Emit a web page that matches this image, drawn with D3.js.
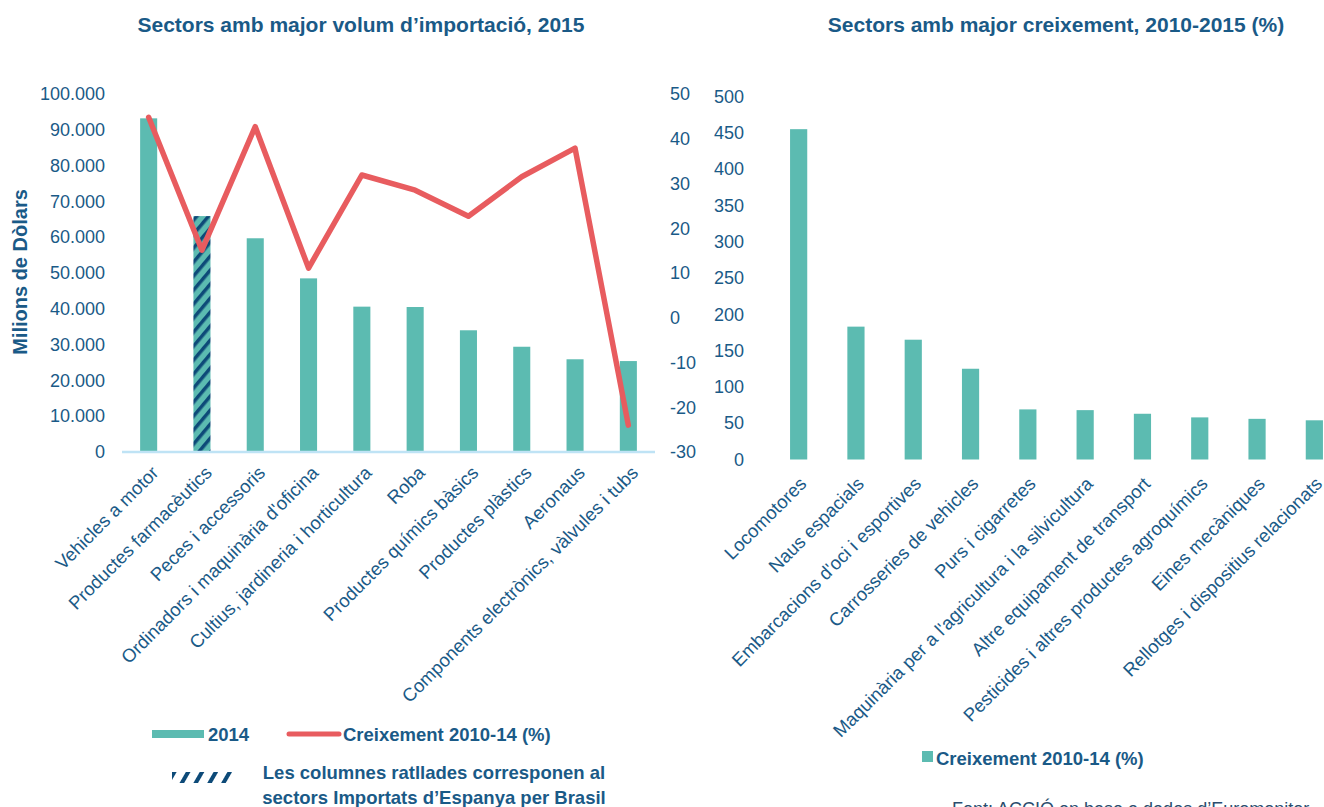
<!DOCTYPE html>
<html>
<head>
<meta charset="utf-8">
<script src="https://cdn.jsdelivr.net/npm/d3@7"></script>
<style>
  body { margin: 0; background: #fff; }
  svg { display: block; font-family: "Liberation Sans", Arial, sans-serif; }
</style>
</head>
<body>
<svg width="1324" height="807"></svg>
<script>
// left chart: import volume 2015 + growth line
const importCats = ["Vehicles a motor", "Productes farmacèutics", "Peces i accessoris",
  "Ordinadors i maquinària d'oficina", "Cultius, jardineria i horticultura", "Roba",
  "Productes químics bàsics", "Productes plàstics", "Aeronaus",
  "Components electrònics, vàlvules i tubs"];
const import2014 = [93200, 65900, 59700, 48500, 40600, 40500, 34000, 29400, 25900, 25400];
const growth1014 = [44.8, 15.1, 42.7, 11.1, 31.9, 28.5, 22.7, 31.5, 37.9, -24];
const hatched = ["Productes farmacèutics"]; // sectors imported from Spain
const leftTicks = d3.range(0, 100001, 10000);
const rightTicks = d3.range(-30, 51, 10);

// right chart: fastest growing sectors
const growthCats = ["Locomotores", "Naus espacials", "Embarcacions d'oci i esportives",
  "Carrosseries de vehicles", "Purs i cigarretes", "Maquinària per a l'agricultura i la silvicultura",
  "Altre equipament de transport", "Pesticides i altres productes agroquímics",
  "Eines mecàniques", "Rellotges i dispositius relacionats"];
const growthVals = [455, 183, 165, 125, 69, 68, 63, 58, 56, 54];
const growthTicks = d3.range(0, 501, 50);

const teal = "#5cbbb1", red = "#e85c5f", navy = "#0d4a78", txt = "#1a5a87";

const svg = d3.select("svg");
const defs = svg.append("defs");

// diagonal stripes for hatched bars
const pat = defs.append("pattern").attr("id", "hatch")
  .attr("patternUnits", "userSpaceOnUse").attr("width", 9).attr("height", 9)
  .attr("patternTransform", "rotate(40)");
pat.append("rect").attr("width", 9).attr("height", 9).attr("fill", teal);
pat.append("rect").attr("width", 3.5).attr("height", 9).attr("fill", navy);

const pat2 = defs.append("pattern").attr("id", "hatchLegend")
  .attr("patternUnits", "userSpaceOnUse").attr("width", 12).attr("height", 12)
  .attr("patternTransform", "translate(172,772) rotate(30)");
pat2.append("rect").attr("width", 4).attr("height", 12).attr("fill", navy);

const thousands = d3.formatLocale({decimal: ",", thousands: ".", grouping: [3], currency: ["", ""]}).format(",");

// ---------- left chart ----------
const xL = d3.scaleBand().domain(importCats).range([122, 655]).paddingInner(0.68).paddingOuter(0.34);
const yL = d3.scaleLinear().domain([0, 100000]).range([452, 94]);
const yR = d3.scaleLinear().domain([-30, 50]).range([452, 94]);

svg.append("text").text("Sectors amb major volum d’importació, 2015")
  .attr("x", 361).attr("y", 32).attr("text-anchor", "middle")
  .attr("font-weight", "bold").attr("font-size", 21).attr("fill", txt);

const axL = svg.append("g").attr("transform", "translate(122,0)")
  .call(d3.axisLeft(yL).tickValues(leftTicks).tickFormat(thousands).tickSize(0).tickPadding(17));
axL.select(".domain").remove();
axL.selectAll("text").attr("font-size", 18).attr("fill", txt).attr("font-family", null);

const axR = svg.append("g").attr("transform", "translate(655,0)")
  .call(d3.axisRight(yR).tickValues(rightTicks).tickFormat(d => String(d)).tickSize(0).tickPadding(15));
axR.select(".domain").remove();
axR.selectAll("text").attr("font-size", 18).attr("fill", txt).attr("font-family", null);

svg.append("text").text("Milions de Dòlars")
  .attr("transform", "translate(27,272) rotate(-90)").attr("text-anchor", "middle")
  .attr("font-weight", "bold").attr("font-size", 20).attr("fill", txt);

svg.selectAll(".barL").data(importCats).enter().append("rect")
  .attr("class", "barL")
  .attr("x", d => xL(d)).attr("width", xL.bandwidth())
  .attr("y", (d, i) => yL(import2014[i]))
  .attr("height", (d, i) => yL(0) - yL(import2014[i]))
  .attr("fill", d => hatched.includes(d) ? "url(#hatch)" : teal);

svg.append("line").attr("x1", 122).attr("x2", 655).attr("y1", 452).attr("y2", 452)
  .attr("stroke", "#bfe3f5").attr("stroke-width", 2.5);

const line = d3.line().x((d, i) => xL(importCats[i]) + xL.bandwidth() / 2).y(d => yR(d));
svg.append("path").datum(growth1014).attr("d", line)
  .attr("fill", "none").attr("stroke", red).attr("stroke-width", 5.5)
  .attr("stroke-linejoin", "round").attr("stroke-linecap", "round");

svg.selectAll(".labL").data(importCats).enter().append("text")
  .attr("class", "labL").text(d => d)
  .attr("transform", d => `translate(${xL(d) + xL.bandwidth() / 2 + 11},474) rotate(-45)`)
  .attr("text-anchor", "end").attr("font-size", 18.5).attr("fill", txt);

// legend left
svg.append("rect").attr("x", 152).attr("y", 730).attr("width", 52).attr("height", 8).attr("fill", teal);
svg.append("text").text("2014").attr("x", 208).attr("y", 741)
  .attr("font-weight", "bold").attr("font-size", 18.5).attr("fill", txt);
svg.append("line").attr("x1", 289).attr("x2", 339).attr("y1", 734).attr("y2", 734)
  .attr("stroke", red).attr("stroke-width", 5).attr("stroke-linecap", "round");
svg.append("text").text("Creixement 2010-14 (%)").attr("x", 343).attr("y", 741)
  .attr("font-weight", "bold").attr("font-size", 18.5).attr("fill", txt);
svg.append("rect").attr("x", 172).attr("y", 772).attr("width", 60).attr("height", 11)
  .attr("fill", "url(#hatchLegend)");
svg.append("text").attr("text-anchor", "middle").attr("font-weight", "bold")
  .attr("font-size", 18.5).attr("fill", txt)
  .selectAll("tspan").data(["Les columnes ratllades corresponen al", "sectors Importats d’Espanya per Brasil"])
  .enter().append("tspan").text(d => d).attr("x", 434).attr("y", (d, i) => 779 + i * 25);

// ---------- right chart ----------
const x2 = d3.scaleBand().domain(growthCats).range([770, 1343]).paddingInner(0.7).paddingOuter(0.35);
const y2 = d3.scaleLinear().domain([0, 500]).range([459.5, 96.5]);

svg.append("text").text("Sectors amb major creixement, 2010-2015 (%)")
  .attr("x", 1056).attr("y", 32).attr("text-anchor", "middle")
  .attr("font-weight", "bold").attr("font-size", 21).attr("fill", txt);

const ax2 = svg.append("g").attr("transform", "translate(760,0)")
  .call(d3.axisLeft(y2).tickValues(growthTicks).tickSize(0).tickPadding(16));
ax2.select(".domain").remove();
ax2.selectAll("text").attr("font-size", 18).attr("fill", txt).attr("font-family", null);

svg.selectAll(".barR").data(growthCats).enter().append("rect")
  .attr("class", "barR")
  .attr("x", d => x2(d)).attr("width", x2.bandwidth())
  .attr("y", (d, i) => y2(growthVals[i]))
  .attr("height", (d, i) => y2(0) - y2(growthVals[i]))
  .attr("fill", teal);

svg.selectAll(".labR").data(growthCats).enter().append("text")
  .attr("class", "labR").text(d => d)
  .attr("transform", d => `translate(${x2(d) + x2.bandwidth() / 2 + 9},485) rotate(-45)`)
  .attr("text-anchor", "end").attr("font-size", 18.5).attr("fill", txt);

svg.append("rect").attr("x", 922).attr("y", 751).attr("width", 11).attr("height", 11).attr("fill", teal);
svg.append("text").text("Creixement 2010-14 (%)").attr("x", 936).attr("y", 765)
  .attr("font-weight", "bold").attr("font-size", 18.5).attr("fill", txt);

svg.append("text").text("Font: ACCIÓ en base a dades d’Euromonitor")
  .attr("x", 952).attr("y", 815).attr("font-size", 18).attr("fill", "#2a4d6e");
</script>
</body>
</html>
